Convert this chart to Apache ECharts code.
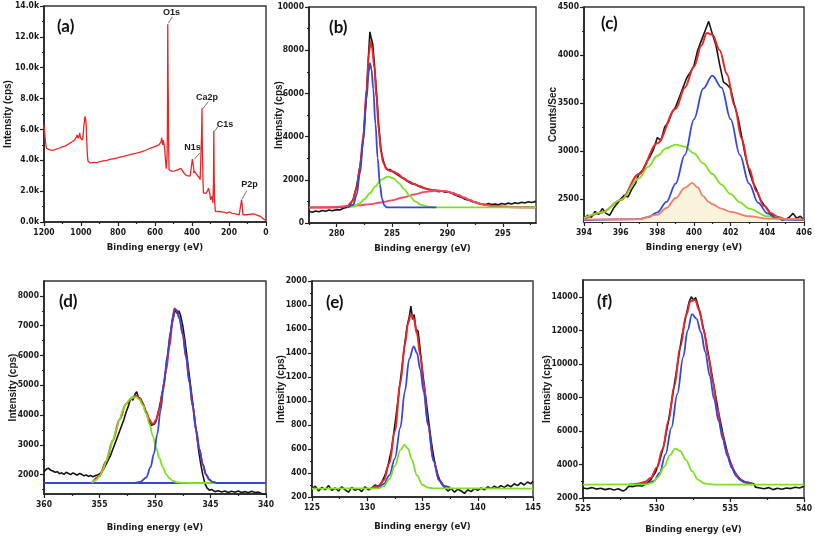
<!DOCTYPE html>
<html><head><meta charset="utf-8">
<script src="https://cdn.jsdelivr.net/npm/echarts@6/dist/echarts.min.js"></script>
<style>html,body{margin:0;padding:0;background:#fff}#c{width:815px;height:537px}</style>
</head><body><div id="c"></div><script>
// ---------------- DATA ----------------
// (a) survey
const aSurvey = [[1200,6300],[1196,6350],[1192,5200],[1187,4780],[1180,4700],[1169,4670],[1160,4720],[1150,4650],[1140,4720],[1133,4720],[1120,4780],[1110,4760],[1097,4890],[1085,4920],[1075,5000],[1061,5100],[1050,5180],[1040,5250],[1034,5320],[1025,5500],[1021,5640],[1016,5430],[1010,5600],[1007,5780],[1003,5450],[998,5380],[992,5320],[988,5700],[985,6180],[980,6700],[978,6850],[975,6700],[972,6300],[969,5300],[967,4670],[964,4100],[961,3920],[955,3840],[950,3820],[943,3810],[930,3860],[915,3840],[898,3920],[880,3960],[860,4000],[840,4080],[822,4100],[808,4140],[790,4200],[770,4250],[750,4320],[735,4360],[718,4420],[700,4470],[685,4520],[670,4560],[650,4650],[627,4780],[610,4850],[591,4930],[580,4980],[573,5040],[567,5200],[564,5450],[561,5200],[558,5000],[555,5300],[552,5100],[549,4890],[545,4300],[542,3810],[539,3450],[537,3380],[535,4200],[533,5750],[531,12820],[529,9000],[528,7900],[526,4800],[524,3380],[519,3270],[510,3300],[501,3270],[492,3320],[483,3350],[474,3400],[465,3430],[460,3480],[456,3390],[450,3300],[447,3270],[442,3150],[437,3060],[428,3000],[419,2950],[410,2980],[401,2950],[398,4070],[396,4100],[394,4030],[391,3500],[390,3170],[387,3300],[383,3380],[378,3200],[374,3060],[369,3000],[365,2950],[360,2870],[356,2740],[353,2800],[351,2840],[348,5750],[346,7370],[344,5000],[342,3600],[340,2500],[338,1880],[333,1850],[329,1830],[324,1860],[320,1880],[315,2050],[311,2200],[308,2150],[306,2090],[303,1800],[300,1440],[297,1500],[293,1660],[290,1500],[287,1230],[284,2500],[282,5900],[280,3000],[278,1440],[275,900],[273,690],[265,700],[256,680],[248,690],[235,650],[225,630],[212,580],[205,600],[198,650],[194,760],[192,680],[190,580],[183,560],[175,540],[165,520],[155,490],[145,460],[139,430],[135,500],[132,1450],[130,1550],[128,1000],[125,470],[115,480],[103,470],[90,500],[80,530],[67,520],[58,470],[49,450],[40,400],[31,370],[22,280],[13,190],[6,150],[0,110]];
// (b) C1s
const bData = [[277.5,540],[277.8,500],[278.1,560],[278.4,520],[278.7,580],[279,540],[279.3,600],[279.6,570],[280,620],[280.3,600],[280.6,680],[280.9,720],[281.2,850],[281.5,1100],[281.8,1700],[282.1,2600],[282.4,3900],[282.7,6000],[282.9,8000],[283.0,8850],[283.1,8600],[283.25,8300],[283.4,7400],[283.6,6000],[283.8,4500],[284,3400],[284.2,2900],[284.4,2600],[284.6,2450],[284.8,2480],[285,2400],[285.3,2300],[285.6,2200],[285.9,2100],[286.2,2000],[286.5,1900],[286.8,1820],[287.1,1780],[287.4,1700],[287.7,1640],[288,1600],[288.3,1560],[288.6,1480],[288.9,1520],[289.2,1450],[289.5,1480],[289.8,1420],[290.1,1440],[290.4,1380],[290.7,1300],[291,1240],[291.3,1180],[291.6,1100],[291.9,1060],[292.2,1000],[292.5,960],[292.8,900],[293.1,880],[293.4,850],[293.7,900],[294,860],[294.3,880],[294.6,840],[294.9,900],[295.2,870],[295.5,920],[295.8,880],[296.1,940],[296.4,900],[296.7,960],[297,930],[297.3,980],[297.6,950],[298,1000]];
const bFit = [[277.5,720],[279,720],[280,725],[280.5,740],[281,800],[281.4,1000],[281.8,1600],[282.1,2600],[282.4,4000],[282.7,6200],[282.9,7800],[283.05,8400],[283.2,8100],[283.4,7200],[283.6,5800],[283.8,4300],[284,3300],[284.2,2800],[284.5,2500],[284.8,2420],[285.1,2380],[285.5,2280],[286,2080],[286.5,1920],[287,1800],[287.5,1700],[288,1600],[288.5,1540],[289,1500],[289.5,1480],[290,1450],[290.5,1380],[291,1280],[291.5,1170],[292,1060],[292.5,960],[293,880],[293.5,830],[294,790],[295,760],[296,740],[297,725],[298,720]];
const bBroad = [[277.5,720],[279,730],[280,750],[281,780],[282,820],[283,870],[284,950],[285,1050],[286,1180],[287,1320],[288,1440],[288.8,1500],[289.5,1490],[290,1450],[290.5,1380],[291,1290],[291.5,1180],[292,1070],[292.5,970],[293,890],[293.5,830],[294,790],[295,750],[296,730],[298,720]];
const bMain = [[281,720],[281.5,850],[281.8,1300],[282.1,2300],[282.4,3800],[282.7,5800],[282.9,7000],[283.0,7400],[283.15,7100],[283.3,6200],[283.5,4600],[283.7,3000],[283.9,1800],[284.1,1100],[284.3,820],[284.5,730],[284.8,720],[289,720]];
const bSide = [[281,720],[281.5,760],[282,880],[282.5,1100],[283,1380],[283.5,1700],[284,2000],[284.6,2150],[285.1,2080],[285.6,1850],[286.1,1560],[286.6,1250],[287.1,1000],[287.6,850],[288.1,770],[288.6,730],[289,720],[298,720]];
// (c) N1s
const cData = [[394,2290],[394.2,2330],[394.4,2310],[394.6,2370],[394.8,2340],[395,2400],[395.2,2350],[395.4,2330],[395.6,2400],[395.8,2450],[396,2500],[396.2,2540],[396.4,2520],[396.6,2600],[396.8,2660],[397,2760],[397.2,2800],[397.4,2880],[397.6,2940],[397.8,3020],[398,3140],[398.2,3110],[398.4,3250],[398.6,3300],[398.8,3400],[399,3460],[399.2,3560],[399.4,3660],[399.6,3760],[399.8,3820],[400,3890],[400.2,4050],[400.4,4150],[400.6,4250],[400.8,4350],[401,4220],[401.2,4100],[401.4,3900],[401.6,3720],[401.8,3690],[402,3650],[402.2,3480],[402.4,3350],[402.6,3150],[402.8,2950],[403,2800],[403.2,2680],[403.4,2600],[403.6,2500],[403.8,2440],[404,2400],[404.2,2340],[404.4,2300],[404.6,2310],[404.8,2280],[405,2290],[405.2,2310],[405.4,2350],[405.6,2300],[405.8,2320],[406,2280]];
const cFit = [[394,2290],[395,2360],[396,2490],[397,2760],[398,3080],[399,3440],[399.5,3660],[400,3880],[400.4,4100],[400.7,4230],[401,4210],[401.4,4050],[401.8,3800],[402.2,3480],[402.6,3130],[403,2820],[403.4,2580],[403.8,2430],[404.2,2350],[404.6,2310],[405,2290],[406,2280]];
const cPeak1 = [[394,2280],[397,2290],[397.5,2310],[398,2360],[398.5,2470],[399,2660],[399.5,2960],[400,3330],[400.5,3650],[401,3785],[401.5,3660],[402,3330],[402.5,2960],[403,2660],[403.5,2460],[404,2350],[404.5,2300],[405,2285],[406,2280]];
const cPeak2 = [[394,2300],[395,2360],[396,2490],[397,2715],[397.5,2835],[398,2950],[398.5,3030],[399,3066],[399.5,3045],[400,2975],[400.5,2870],[401,2760],[401.5,2650],[402,2550],[402.5,2465],[403,2400],[404,2320],[405,2290],[406,2280]];
const cPeak3 = [[394,2285],[397,2290],[398,2337],[398.5,2406],[399,2510],[399.5,2615],[399.9,2667],[400.2,2620],[400.5,2530],[400.8,2470],[401,2445],[401.5,2400],[402,2365],[403,2320],[404,2295],[406,2285]];
// (d) Ca2p
const dData = [[360,2100],[359.8,2180],[359.6,2220],[359.4,2150],[359.2,2120],[359,2080],[358.8,2100],[358.6,2030],[358.4,2060],[358.2,2010],[358,2080],[357.8,2040],[357.6,2000],[357.4,2060],[357.2,2020],[357,1980],[356.8,2040],[356.6,2010],[356.4,1960],[356.2,1990],[356,1940],[355.8,1970],[355.6,1930],[355.4,1960],[355.2,1990],[355,2020],[354.8,2100],[354.6,2200],[354.4,2350],[354.2,2500],[354,2650],[353.8,2850],[353.6,3050],[353.4,3250],[353.2,3450],[353,3650],[352.8,3850],[352.6,4100],[352.4,4300],[352.2,4550],[352,4500],[351.8,4700],[351.65,4780],[351.5,4600],[351.3,4550],[351.1,4400],[350.9,4200],[350.7,4000],[350.5,3800],[350.35,3650],[350.2,3600],[350.05,3700],[349.9,3800],[349.7,4100],[349.5,4450],[349.3,4850],[349.1,5300],[348.9,5900],[348.7,6500],[348.5,7000],[348.3,7350],[348.15,7550],[348,7400],[347.85,7500],[347.7,7350],[347.5,7000],[347.3,6500],[347.1,5900],[346.9,5300],[346.7,4700],[346.5,4100],[346.3,3500],[346.1,2900],[345.9,2400],[345.7,2000],[345.5,1700],[345.3,1550],[345.1,1480],[344.9,1500],[344.6,1430],[344.3,1460],[344,1420],[343.7,1450],[343.4,1400],[343.1,1440],[342.8,1410],[342.5,1450],[342.2,1400],[341.9,1430],[341.6,1390],[341.3,1440],[341,1400],[340.7,1420],[340.4,1370],[340.2,1340],[340,1320]];
const dFit = [[355.7,1720],[355,1950],[354.4,2450],[353.8,3150],[353.2,3850],[352.6,4380],[352,4600],[351.7,4650],[351.4,4560],[351.1,4380],[350.8,4100],[350.5,3850],[350.3,3720],[350.1,3720],[349.9,3850],[349.6,4200],[349.3,4800],[349,5500],[348.7,6300],[348.4,7200],[348.25,7580],[348.05,7520],[347.8,7270],[347.5,6720],[347.2,5960],[346.9,5110],[346.6,4300],[346.3,3500],[346,2850],[345.7,2350],[345.4,2000],[345.1,1830],[344.8,1750],[344.5,1725]];
const dPeak1 = [[351.8,1720],[351.3,1760],[350.8,1900],[350.4,2250],[350.1,2700],[349.8,3350],[349.5,4150],[349.2,5050],[348.9,5950],[348.6,6800],[348.4,7300],[348.25,7550],[348.05,7500],[347.8,7250],[347.5,6700],[347.2,5950],[346.9,5100],[346.6,4300],[346.3,3500],[346,2850],[345.7,2350],[345.4,2000],[345.1,1830],[344.8,1750],[344.5,1725],[344,1720]];
const dPeak2 = [[355.7,1720],[355.3,1820],[355,1950],[354.7,2150],[354.4,2450],[354.1,2800],[353.8,3150],[353.5,3500],[353.2,3850],[352.9,4150],[352.6,4380],[352.3,4520],[352,4590],[351.7,4600],[351.4,4520],[351.1,4330],[350.8,4050],[350.5,3700],[350.2,3300],[349.9,2900],[349.6,2550],[349.3,2250],[349,2020],[348.7,1880],[348.4,1790],[348,1740],[347.5,1725],[347,1720],[344.5,1720]];
const dBase = [[360,1720],[340,1720]];
// (e) P2p
const eData = [[125,270],[125.3,290],[125.6,250],[125.9,280],[126.2,260],[126.5,295],[126.8,255],[127.1,275],[127.4,250],[127.7,285],[128,260],[128.3,240],[128.6,280],[128.9,255],[129.2,270],[129.5,245],[129.8,285],[130.1,260],[130.4,275],[130.7,300],[131,290],[131.3,320],[131.6,380],[131.9,470],[132.2,600],[132.5,800],[132.8,1020],[133.1,1250],[133.4,1480],[133.6,1620],[133.8,1700],[133.95,1790],[134.1,1680],[134.25,1720],[134.4,1600],[134.6,1580],[134.8,1420],[135,1250],[135.2,1100],[135.4,950],[135.6,800],[135.8,660],[136,540],[136.2,450],[136.4,380],[136.6,330],[136.8,300],[137,280],[137.3,250],[137.6,270],[137.9,240],[138.2,265],[138.5,250],[138.8,230],[139.1,260],[139.4,245],[139.7,270],[140,255],[140.3,275],[140.6,260],[140.9,285],[141.2,270],[141.5,290],[141.8,275],[142.1,295],[142.4,280],[142.7,300],[143,285],[143.3,310],[143.6,295],[143.9,320],[144.2,300],[144.5,325],[144.8,310],[145,330]];
const eFit = [[130.5,280],[131,290],[131.5,340],[132,480],[132.5,750],[133,1150],[133.4,1470],[133.7,1650],[133.95,1720],[134.2,1690],[134.5,1560],[134.8,1380],[135.1,1150],[135.5,800],[136,500],[136.5,340],[137,290],[137.5,278]];
const ePeak1 = [[130.5,275],[131,280],[131.5,310],[132,380],[132.5,520],[133,780],[133.4,1080],[133.8,1350],[134.2,1455],[134.5,1400],[134.8,1260],[135.1,1080],[135.5,800],[136,500],[136.5,340],[137,290],[137.5,278]];
const ePeak2 = [[125,270],[131,272],[131.5,290],[132,350],[132.5,460],[133,590],[133.36,637],[133.7,600],[134,520],[134.5,380],[135,300],[135.5,278],[136,272],[145,270]];
// (f) O1s
const fData = [[525,2600],[525.3,2550],[525.6,2620],[525.9,2530],[526.2,2580],[526.5,2500],[526.8,2560],[527.1,2480],[527.4,2550],[527.7,2420],[527.9,2500],[528.1,2700],[528.4,2680],[528.7,2750],[529,2720],[529.3,2850],[529.6,3100],[529.9,3500],[530.2,4200],[530.5,5200],[530.8,6600],[531.1,8200],[531.4,9900],[531.7,11600],[532,12900],[532.2,13700],[532.35,14000],[532.5,13800],[532.65,13950],[532.8,13500],[533,12800],[533.3,11600],[533.6,10100],[533.9,8600],[534.2,7100],[534.5,5800],[534.8,4700],[535.1,3900],[535.4,3400],[535.7,3100],[536,2950],[536.3,2900],[536.6,2850],[536.7,2650],[537,2600],[537.3,2550],[537.6,2620],[537.9,2500],[538.2,2580],[538.5,2520],[538.8,2600],[539.1,2560],[539.4,2640],[539.7,2600],[540,2700]];
const fFit = [[528.2,2800],[528.7,2850],[529.2,2950],[529.6,3200],[530,3800],[530.4,4900],[530.8,6600],[531.2,8700],[531.6,11000],[532,12900],[532.3,13750],[532.6,13800],[532.9,13200],[533.2,12000],[533.5,10500],[533.8,9000],[534.1,7400],[534.4,6000],[534.7,4900],[535,4100],[535.3,3500],[535.6,3150],[536,2950],[536.5,2820]];
const fPeak1 = [[528.5,2800],[529.3,2850],[529.8,3000],[530.2,3500],[530.6,4600],[531,6200],[531.4,8200],[531.8,10400],[532.1,12000],[532.4,12960],[532.7,12700],[533,11900],[533.3,10700],[533.6,9300],[533.9,7900],[534.2,6600],[534.5,5500],[534.8,4500],[535.1,3800],[535.4,3300],[535.7,3050],[536,2920],[536.5,2820]];
const fPeak2 = [[525,2800],[529.3,2810],[529.7,2900],[530.1,3250],[530.5,3850],[530.9,4550],[531.25,4950],[531.6,4800],[532,4250],[532.4,3600],[532.8,3100],[533.2,2880],[533.6,2820],[534,2800],[540,2800]];

// tick values
const aXTicks=[1200,1000,800,600,400,200,0], aXMinor=[1100,900,700,500,300,100];
const aYTicks=[0,2000,4000,6000,8000,10000,12000,14000], aYMinor=[1000,3000,5000,7000,9000,11000,13000];
const bXTicks=[280,285,290,295], bXMinor=[277.5,282.5,287.5,292.5,297.5];
const bYTicks=[0,2000,4000,6000,8000,10000], bYMinor=[1000,3000,5000,7000,9000];
const cXTicks=[394,396,398,400,402,404,406], cXMinor=[395,397,399,401,403,405];
const cYTicks=[2500,3000,3500,4000,4500], cYMinor=[2750,3250,3750,4250];
const dXTicks=[360,355,350,345,340], dXMinor=[357.5,352.5,347.5,342.5];
const dYTicks=[2000,3000,4000,5000,6000,7000,8000], dYMinor=[1500,2500,3500,4500,5500,6500,7500];
const eXTicks=[125,130,135,140,145], eXMinor=[127.5,132.5,137.5,142.5];
const eYTicks=[200,400,600,800,1000,1200,1400,1600,1800,2000], eYMinor=[300,500,700,900,1100,1300,1500,1700,1900];
const fXTicks=[525,530,535,540], fXMinor=[527.5,532.5,537.5];
const fYTicks=[2000,4000,6000,8000,10000,12000,14000], fYMinor=[3000,5000,7000,9000,11000,13000];

// annotations of panel (a)
const aPeakNames=['O1s','Ca2p','C1s','N1s','P2p'];
const aLeaderFrom=[[528,12880],[344,7300],[280,5850],[388,4060],[128,1500]];
const aLeaderTo=[[506,13310],[312,7800],[258,6220],[357,4490],[104,2030]];
const aLabelAt=[[511,13560],[319,8070],[222,6350],[397,4840],[89,2400]];

// ---------------- STYLE / LAYOUT ----------------
const BLACK='#151515', RED='#ee2428', BLUE='#3547d8', GREEN='#7ee020', PINK='#f24a66', ORANGE='#f0806c';
const FONT='"Liberation Sans", Arial, sans-serif';
const NARROW='"Liberation Sans Narrow", "DejaVu Sans Condensed", "Liberation Sans", Arial, sans-serif';
const panels=[
 {lab:'(a)',labPos:[52,13],grid:{left:44,top:6,width:222,height:216},x:{min:0,max:1200,inv:true,t:aXTicks,m:aXMinor},y:{min:0,max:14000,t:aYTicks,m:aYMinor,fmt:v=>(v/1000).toFixed(1)+'k'},yName:'Intensity (cps)',yGap:31,xGap:21,
  series:[{d:aSurvey,c:RED,w:1.3}]},
 {lab:'(b)',labPos:[324,14],grid:{left:309,top:7,width:227,height:216},x:{min:277.5,max:298,t:bXTicks,m:bXMinor},y:{min:0,max:10000,t:bYTicks,m:bYMinor},yName:'Intensity (cps)',yGap:25,xGap:21,
  series:[{d:bData,c:BLACK,w:1.6},{d:bFit,c:RED,w:2,s:true},{d:bBroad,c:PINK,w:1.8,s:true},{d:bSide,c:GREEN,w:1.8,s:true},{d:bMain,c:BLUE,w:1.8,s:true}]},
 {lab:'(c)',labPos:[596,10],grid:{left:584,top:7,width:222,height:215},x:{min:394,max:406,t:cXTicks,m:cXMinor},y:{min:2260,max:4500,t:cYTicks,m:cYMinor},yName:'Counts/Sec',yGap:26,xGap:21,
  series:[{d:cData,c:BLACK,w:1.6},{d:cFit,c:RED,w:2,s:true},{d:cPeak2,c:GREEN,w:1.8,s:true},{d:cPeak1,c:BLUE,w:1.8,s:true},{d:cPeak3,c:ORANGE,w:1.8,s:true,area:'#fbf2dc'}]},
 {lab:'(d)',labPos:[54,288],grid:{left:44,top:281,width:222,height:213},x:{min:340,max:360,inv:true,t:dXTicks,m:dXMinor},y:{min:1350,max:8500,t:dYTicks,m:dYMinor},yName:'Intensity (cps)',yGap:26,xGap:29,
  series:[{d:dData,c:BLACK,w:1.6},{d:dFit,c:RED,w:2,s:true},{d:dBase,c:BLUE,w:1.8},{d:dPeak2,c:GREEN,w:1.8,s:true},{d:dPeak1,c:BLUE,w:1.8,s:true}]},
 {lab:'(e)',labPos:[321,289],grid:{left:312,top:281,width:221,height:216},x:{min:125,max:145,t:eXTicks,m:eXMinor},y:{min:200,max:2000,t:eYTicks,m:eYMinor},yName:'Intensity (cps)',yGap:26,xGap:25,
  series:[{d:eData,c:BLACK,w:1.6},{d:eFit,c:RED,w:2,s:true},{d:ePeak1,c:BLUE,w:1.8,s:true},{d:ePeak2,c:GREEN,w:1.8,s:true}]},
 {lab:'(f)',labPos:[592,288],grid:{left:583,top:280,width:223,height:218},x:{min:525,max:540,t:fXTicks,m:fXMinor},y:{min:2000,max:15000,t:fYTicks,m:fYMinor},yName:'Intensity (cps)',yGap:31,xGap:27,
  series:[{d:fData,c:BLACK,w:1.6},{d:fFit,c:RED,w:2,s:true},{d:fPeak1,c:BLUE,w:1.8,s:true},{d:fPeak2,c:GREEN,w:1.8,s:true}]}
];

const lblStyle={fontSize:8.5,fontWeight:'bold',color:'#1a1a1a',fontFamily:NARROW};
const option={animation:false,backgroundColor:'#fff',textStyle:{fontFamily:FONT},
  grid:[],xAxis:[],yAxis:[],series:[],title:[]};

panels.forEach((p,i)=>{
  option.grid.push(Object.assign({show:true,borderColor:'#333',borderWidth:1.4,backgroundColor:'transparent'},p.grid));
  option.title.push({text:p.lab,left:p.labPos[0],top:p.labPos[1],textStyle:{fontSize:17,fontWeight:'bold',color:'#111',fontFamily:'Lato, "Open Sans", sans-serif'}});
  const ax=(o,isX,major)=>({
    type:'value',gridIndex:i,min:o.min,max:o.max,inverse:!!o.inv,
    position:isX?'bottom':'left',
    axisLine:{show:major,onZero:false,lineStyle:{color:'#222',width:1.6}},
    axisTick:{show:true,inside:false,length:major?4:2,customValues:major?o.t:o.m,lineStyle:{color:'#222',width:1.2}},
    axisLabel:major?Object.assign({show:true,customValues:o.t,margin:isX?6:5,formatter:o.fmt||(v=>String(v))},lblStyle):{show:false},
    splitLine:{show:false},
    name:major?(isX?'Binding energy (eV)':p.yName):'',
    nameLocation:'middle',nameGap:isX?p.xGap:p.yGap,nameMoveOverlap:false,
    nameTextStyle:isX?{fontSize:9.5,fontWeight:'bold',color:'#1a1a1a',fontFamily:NARROW}
                     :{fontSize:10,fontWeight:'bold',color:'#1a1a1a',fontFamily:FONT}
  });
  option.xAxis.push(ax(p.x,true,true)); option.xAxis.push(ax(p.x,true,false));
  option.yAxis.push(ax(p.y,false,true)); option.yAxis.push(ax(p.y,false,false));
  p.series.forEach(s=>{
    const ser={type:'line',xAxisIndex:2*i,yAxisIndex:2*i,data:s.d,showSymbol:false,symbol:'none',
      smooth:s.s?0.35:false,smoothMonotone:s.s?'x':undefined,clip:true,
      lineStyle:{color:s.c,width:s.w},itemStyle:{color:s.c},silent:true};
    if(s.area) ser.areaStyle={color:s.area,origin:'start',opacity:1};
    option.series.push(ser);
  });
});
// annotations for survey (panel a): leader lines and peak labels
const surv=option.series[0];
surv.markLine={silent:true,symbol:['none','none'],animation:false,label:{show:false},
  lineStyle:{color:'#777',width:1,type:'solid'},
  data:aLeaderFrom.map((f,k)=>[{coord:f},{coord:aLeaderTo[k]}])};
surv.markPoint={silent:true,animation:false,symbol:'circle',symbolSize:0,
  label:{show:true,position:'inside',formatter:'{b}',fontSize:9,fontWeight:'bold',color:'#1a1a1a',fontFamily:FONT},
  data:aPeakNames.map((n,k)=>({name:n,coord:aLabelAt[k]}))};

const chart=echarts.init(document.getElementById('c'),null,{renderer:'canvas'});
chart.setOption(option);
</script></body></html>
